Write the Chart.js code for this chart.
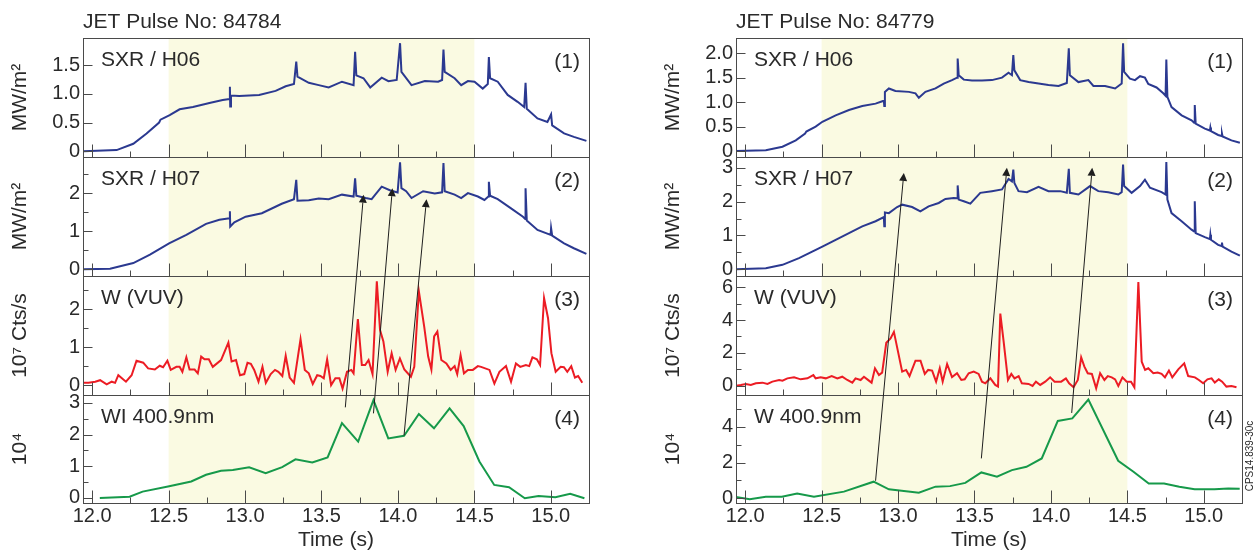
<!DOCTYPE html>
<html>
<head>
<meta charset="utf-8">
<script src="https://cdn.jsdelivr.net/npm/chart.js@4.4.1/dist/chart.umd.min.js"></script>
<style>
  body { margin: 0; background: #fff; }
  #left { position: absolute; left: 0; top: 0; width: 653px; height: 554px; }
  #right { position: absolute; left: 653px; top: 0; width: 605px; height: 554px; }
</style>
</head>
<body>
<div id="left"><canvas id="chartL"></canvas></div>
<div id="right"><canvas id="chartR"></canvas></div>
<script>
// ---- data: [time (s), value] ----
const pulses = ["84784", "84779"];
const namesA = ["SXR / H06", "SXR / H07", "W (VUV)", "WI 400.9nm"];
const namesB = ["SXR / H06", "SXR / H07", "W (VUV)", "W 400.9nm"];
const panelNums = ["(1)", "(2)", "(3)", "(4)"];
const yTitles = ["MW/m\u00B2", "MW/m\u00B2", "10\u2077 Cts/s", "10\u2074"];
const timeRange = [11.94, 15.25];
const flatTop = [12.5, 14.5];
const figNote = "CPS14.839-30c";

// pulse 84784
const h06A = [[11.943,0],[12.16,0.02],[12.269,0.13],[12.356,0.31],[12.438,0.50],[12.447,0.55],[12.507,0.63],[12.572,0.73],[12.659,0.77],[12.767,0.84],[12.854,0.89],[12.899,0.91],[12.901,1.12],[12.903,0.78],[12.908,0.97],[12.962,0.96],[13.092,0.98],[13.2,1.05],[13.266,1.13],[13.32,1.17],[13.335,1.56],[13.343,1.30],[13.417,1.19],[13.482,1.15],[13.547,1.11],[13.634,1.21],[13.71,1.15],[13.72,1.73],[13.728,1.32],[13.775,1.27],[13.819,1.11],[13.894,1.28],[13.938,1.22],[13.992,1.24],[14.014,1.88],[14.023,1.38],[14.089,1.15],[14.176,1.22],[14.263,1.21],[14.289,1.24],[14.298,1.77],[14.306,1.38],[14.371,1.27],[14.414,1.15],[14.458,1.22],[14.501,1.21],[14.555,1.09],[14.588,1.17],[14.595,1.64],[14.603,1.27],[14.653,1.21],[14.718,0.98],[14.783,0.86],[14.826,0.77],[14.835,1.19],[14.843,0.74],[14.913,0.57],[14.978,0.51],[15.002,0.64],[15.009,0.45],[15.087,0.31],[15.151,0.25],[15.233,0.18]];
const h07A = [[11.943,0],[12.117,0.01],[12.269,0.16],[12.378,0.38],[12.503,0.68],[12.616,0.90],[12.745,1.19],[12.832,1.30],[12.899,1.34],[12.901,1.52],[12.903,1.12],[12.93,1.23],[13.004,1.38],[13.11,1.47],[13.24,1.72],[13.32,1.84],[13.335,2.35],[13.343,1.80],[13.417,1.81],[13.482,1.86],[13.547,1.84],[13.634,1.96],[13.71,1.91],[13.72,2.39],[13.728,1.93],[13.789,1.87],[13.828,1.84],[13.894,2.17],[13.951,2.07],[13.998,2.02],[14.014,2.81],[14.023,2.13],[14.054,2.05],[14.089,1.87],[14.165,2.05],[14.241,1.99],[14.289,2.02],[14.298,2.79],[14.306,2.05],[14.371,1.96],[14.414,1.87],[14.458,2.0],[14.523,1.91],[14.566,1.82],[14.592,1.91],[14.595,2.30],[14.603,1.93],[14.653,1.84],[14.74,1.60],[14.818,1.38],[14.833,1.32],[14.835,2.13],[14.843,1.28],[14.913,1.03],[14.999,0.90],[15.002,1.08],[15.009,0.88],[15.087,0.68],[15.151,0.55],[15.233,0.40]];
const vuvA = [[11.944,0.06],[11.976,0.06],[12.02,0.09],[12.052,0.13],[12.095,0.02],[12.128,0.09],[12.15,0.06],[12.171,0.26],[12.221,0.09],[12.258,0.26],[12.29,0.64],[12.334,0.59],[12.366,0.44],[12.41,0.41],[12.442,0.51],[12.464,0.47],[12.492,0.64],[12.514,0.40],[12.551,0.48],[12.572,0.48],[12.59,0.35],[12.616,0.73],[12.637,0.41],[12.67,0.41],[12.691,0.31],[12.713,0.75],[12.735,0.68],[12.763,0.68],[12.789,0.48],[12.843,0.66],[12.891,1.12],[12.912,0.62],[12.941,0.66],[12.967,0.26],[12.995,0.29],[13.016,0.59],[13.038,0.56],[13.06,0.40],[13.088,0.09],[13.114,0.48],[13.136,0.06],[13.168,0.29],[13.196,0.40],[13.218,0.35],[13.244,0.24],[13.266,0.77],[13.292,0.20],[13.32,0.06],[13.363,1.21],[13.391,0.40],[13.417,0.31],[13.443,0.03],[13.472,0.26],[13.493,0.24],[13.515,0.18],[13.537,0.68],[13.563,0.0],[13.591,0.18],[13.617,0.18],[13.638,-0.09],[13.667,0.35],[13.695,0.40],[13.71,0.31],[13.738,1.74],[13.764,0.53],[13.786,0.53],[13.808,0.66],[13.834,0.29],[13.862,2.73],[13.883,1.45],[13.905,1.15],[13.933,0.35],[13.959,0.84],[13.985,0.40],[14.013,0.70],[14.042,0.41],[14.085,0.22],[14.107,0.48],[14.137,2.47],[14.172,1.54],[14.198,0.75],[14.219,0.41],[14.237,1.28],[14.258,1.41],[14.284,0.66],[14.317,0.57],[14.345,0.40],[14.371,0.50],[14.388,0.29],[14.41,0.79],[14.432,0.31],[14.458,0.40],[14.49,0.40],[14.523,0.50],[14.544,0.48],[14.599,0.40],[14.631,0.04],[14.664,0.35],[14.707,0.50],[14.74,0.09],[14.772,0.57],[14.8,0.48],[14.837,0.53],[14.859,0.50],[14.88,0.73],[14.909,0.68],[14.93,0.53],[14.956,2.29],[14.982,1.76],[15.004,0.84],[15.032,0.35],[15.065,0.48],[15.086,0.47],[15.108,0.35],[15.134,0.50],[15.158,0.20],[15.179,0.24],[15.206,0.06]];
const wiA = [[12.05,0],[12.245,0.04],[12.33,0.2],[12.496,0.36],[12.648,0.52],[12.745,0.73],[12.843,0.86],[12.92,0.88],[13.027,0.97],[13.135,0.78],[13.243,0.97],[13.33,1.22],[13.44,1.12],[13.54,1.28],[13.634,2.36],[13.74,1.78],[13.84,3.09],[13.937,1.88],[14.04,1.96],[14.137,2.65],[14.236,2.2],[14.338,2.83],[14.43,2.27],[14.533,1.15],[14.63,0.41],[14.727,0.34],[14.83,-0.01],[14.92,0.06],[15.03,0.02],[15.127,0.13],[15.22,-0.01]];
// arrows: [t start, value in panel 4, t end, value in panel 2]
const arrowsA = [[13.656,2.86,13.775,1.96],[13.84,2.67,13.964,2.13],[14.04,1.97,14.187,1.84]];

// pulse 84779
const h06B = [[11.935,0],[12.135,0.02],[12.244,0.09],[12.331,0.22],[12.392,0.36],[12.40,0.40],[12.461,0.50],[12.505,0.60],[12.592,0.73],[12.679,0.84],[12.766,0.92],[12.853,0.97],[12.907,1.03],[12.91,0.92],[12.914,1.21],[12.94,1.28],[12.983,1.23],[13.071,1.21],[13.114,1.18],[13.136,1.09],[13.179,1.21],[13.245,1.28],[13.299,1.38],[13.353,1.45],[13.386,1.50],[13.39,1.89],[13.397,1.55],[13.43,1.46],[13.484,1.44],[13.549,1.44],[13.614,1.45],[13.68,1.50],[13.723,1.60],[13.745,1.55],[13.754,1.96],[13.761,1.65],[13.799,1.45],[13.854,1.41],[13.919,1.38],[13.984,1.35],[14.05,1.33],[14.104,1.39],[14.117,2.10],[14.124,1.55],[14.18,1.41],[14.245,1.45],[14.278,1.33],[14.354,1.33],[14.42,1.28],[14.463,1.38],[14.472,2.20],[14.479,1.62],[14.517,1.48],[14.55,1.45],[14.583,1.53],[14.615,1.50],[14.637,1.37],[14.691,1.30],[14.735,1.18],[14.75,1.13],[14.755,1.87],[14.762,1.11],[14.789,0.90],[14.855,0.73],[14.92,0.63],[14.937,0.58],[14.941,0.94],[14.947,0.56],[15.007,0.46],[15.04,0.42],[15.043,0.48],[15.047,0.41],[15.094,0.33],[15.116,0.31],[15.119,0.36],[15.123,0.30],[15.181,0.22],[15.236,0.17]];
const h07B = [[11.935,0],[12.135,0.03],[12.244,0.13],[12.352,0.33],[12.505,0.67],[12.592,0.87],[12.679,1.07],[12.766,1.27],[12.853,1.42],[12.907,1.54],[12.91,1.27],[12.914,1.68],[12.94,1.66],[12.994,1.84],[13.027,1.91],[13.092,1.84],[13.146,1.71],[13.2,1.86],[13.266,1.96],[13.31,2.08],[13.364,2.11],[13.386,2.10],[13.39,2.48],[13.397,2.06],[13.43,2.01],[13.473,1.94],[13.538,2.26],[13.614,2.31],[13.68,2.36],[13.723,2.67],[13.745,2.60],[13.754,2.95],[13.761,2.55],[13.788,2.31],[13.843,2.28],[13.919,2.44],[13.984,2.31],[14.061,2.31],[14.104,2.26],[14.117,2.97],[14.124,2.26],[14.18,2.21],[14.256,2.46],[14.31,2.31],[14.375,2.28],[14.441,2.21],[14.463,2.28],[14.472,3.10],[14.479,2.46],[14.528,2.26],[14.583,2.46],[14.615,2.65],[14.648,2.41],[14.724,2.28],[14.75,2.21],[14.755,3.17],[14.762,2.06],[14.789,1.66],[14.855,1.42],[14.92,1.17],[14.937,1.12],[14.941,2.01],[14.947,1.07],[15.007,0.95],[15.04,0.89],[15.043,1.02],[15.047,0.87],[15.094,0.72],[15.116,0.69],[15.119,0.79],[15.123,0.67],[15.181,0.52],[15.236,0.40]];
const vuvB = [[11.935,0],[11.972,0.06],[12.004,0.12],[12.037,0.06],[12.07,0.16],[12.113,0.2],[12.146,0.12],[12.178,0.26],[12.222,0.36],[12.244,0.32],[12.276,0.46],[12.32,0.52],[12.363,0.40],[12.407,0.46],[12.446,0.66],[12.461,0.46],[12.494,0.52],[12.527,0.46],[12.566,0.60],[12.603,0.46],[12.635,0.56],[12.668,0.36],[12.701,0.20],[12.722,0.46],[12.755,0.36],[12.777,0.56],[12.799,0.40],[12.827,0.20],[12.849,1.07],[12.875,0.66],[12.896,0.81],[12.923,2.62],[12.951,2.88],[12.973,3.28],[13.027,0.87],[13.053,0.97],[13.075,0.60],[13.114,1.53],[13.147,1.53],[13.175,0.73],[13.197,0.97],[13.223,0.93],[13.249,0.26],[13.273,1.07],[13.292,0.26],[13.321,1.33],[13.353,0.54],[13.386,0.77],[13.414,0.36],[13.436,0.40],[13.462,0.77],[13.495,0.87],[13.527,0.73],[13.549,0.26],[13.571,0.16],[13.604,0.46],[13.636,0.06],[13.654,-0.04],[13.669,4.39],[13.691,2.68],[13.719,0.36],[13.741,0.73],[13.762,0.46],[13.789,0.60],[13.81,0.16],[13.854,0.12],[13.88,0.0],[13.902,0.26],[13.93,0.06],[13.963,0.26],[13.995,0.52],[14.024,0.26],[14.067,0.26],[14.098,0.46],[14.119,0.16],[14.148,-0.08],[14.176,0.36],[14.198,1.73],[14.219,1.17],[14.241,0.77],[14.268,0.73],[14.296,-0.14],[14.322,0.77],[14.35,0.36],[14.372,0.60],[14.398,0.52],[14.42,0.40],[14.441,0.0],[14.468,0.52],[14.496,0.26],[14.524,0.26],[14.546,-0.08],[14.572,6.30],[14.594,1.47],[14.616,0.97],[14.637,1.07],[14.67,0.77],[14.698,0.81],[14.724,0.73],[14.746,0.52],[14.772,0.93],[14.794,0.52],[14.833,1.01],[14.872,1.37],[14.898,0.60],[14.942,0.52],[14.968,0.36],[14.996,0.16],[15.024,0.40],[15.051,0.46],[15.072,0.20],[15.098,0.40],[15.12,0.26],[15.148,-0.04],[15.181,0.0],[15.214,-0.08]];
const wiB = [[11.935,0.07],[12.03,-0.07],[12.135,0.07],[12.24,0.07],[12.34,0.26],[12.45,0.07],[12.646,0.36],[12.84,0.92],[12.94,0.49],[13.136,0.30],[13.245,0.64],[13.34,0.67],[13.44,0.85],[13.545,1.44],[13.647,1.2],[13.745,1.57],[13.84,1.76],[13.94,2.23],[14.045,4.34],[14.14,4.48],[14.245,5.54],[14.44,2.10],[14.54,1.48],[14.64,0.82],[14.74,0.82],[14.84,0.64],[14.94,0.49],[15.07,0.49],[15.16,0.54],[15.235,0.52]];
const arrowsB = [[12.853,0.97,13.038,2.85],[13.545,2.23,13.712,3.0],[14.136,4.79,14.27,3.0]];

// ---- styles ----
const BLUE = "#2b3990", RED = "#ec1c24", GREEN = "#16994a";
const SHADE = "#fafae2", INK = "#2a2a2a", FRAME = "#4a4a4a";
const FONT = '"Liberation Sans", Arial, Helvetica, sans-serif';

function pts(a) { return a.map(p => ({ x: p[0], y: p[1] })); }

function oneDecimal(v) { return v === 0 ? "0" : v.toFixed(1); }
function plain(v) { return String(v); }

function yAxis(weight, min, max, step, title, fmt, minor) {
  return {
    type: "linear", position: "left", stack: "col", stackWeight: weight,
    min: min, max: max, minorTicks: minor,
    ticks: { stepSize: step, includeBounds: false, autoSkip: false, padding: 3,
             color: INK, font: { family: FONT, size: 20 }, callback: fmt },
    grid: { display: false, drawTicks: false },
    border: { display: false },
    title: { display: true, text: title, color: INK,
             font: { family: FONT, size: 21 }, padding: { top: 8, bottom: 0 } },
    afterFit: s => { s.width = 83; }
  };
}

function panelsPlugin(info) {
  return {
    id: "panels",
    beforeDatasetsDraw(chart) {
      const { ctx, chartArea: a, scales } = chart;
      const x0 = scales.x.getPixelForValue(flatTop[0]);
      const x1 = scales.x.getPixelForValue(flatTop[1]);
      ctx.save();
      ctx.fillStyle = SHADE;
      ctx.fillRect(x0, a.top, x1 - x0, a.bottom - a.top);
      ctx.restore();
    },
    afterDatasetsDraw(chart) {
      const { ctx, chartArea: a, scales } = chart;
      const X = scales.x;
      const L = Math.round(a.left) + 0.5, R = Math.round(a.right) + 0.5;
      const xMajor = X.ticks.map(t => t.value);
      const xMinor = xMajor.map(v => v + 0.25).filter(v => v < X.max - 0.02);
      ctx.save();
      ctx.strokeStyle = FRAME;
      ctx.lineWidth = 1;
      const seg = (x0, y0, x1, y1) => { ctx.beginPath(); ctx.moveTo(x0, y0); ctx.lineTo(x1, y1); ctx.stroke(); };

      ["p1", "p2", "p3", "p4"].forEach((id, i) => {
        const s = scales[id];
        const top = Math.round(s.top) + 0.5, bot = Math.round(s.bottom) + 0.5;
        ctx.strokeRect(L, top, R - L, bot - top);
        const vals = s.ticks.map(t => t.value);
        vals.forEach(v => { const py = Math.round(s.getPixelForValue(v)) + 0.5; seg(L, py, L + 9, py); });
        if (s.options.minorTicks) {
          const step = vals[1] - vals[0];
          vals.map(v => v + step / 2).filter(v => v < s.max).forEach(v => {
            const py = Math.round(s.getPixelForValue(v)) + 0.5; seg(L, py, L + 5, py);
          });
        }
        xMajor.forEach(v => { const px = Math.round(X.getPixelForValue(v)) + 0.5; seg(px, bot, px, bot - 13); });
        xMinor.forEach(v => { const px = Math.round(X.getPixelForValue(v)) + 0.5; seg(px, bot, px, bot - 6); });

        ctx.fillStyle = INK;
        ctx.font = "21px " + FONT;
        ctx.textBaseline = "middle";
        ctx.textAlign = "left";
        ctx.fillText(info.names[i], a.left + 18, s.top + 22);
        ctx.textAlign = "right";
        ctx.fillText(panelNums[i], a.right - 9, s.top + 24);
      });

      // arrows from panel (4) up to panel (2)
      ctx.strokeStyle = "#1e1e1e";
      ctx.fillStyle = "#1e1e1e";
      info.arrows.forEach(ar => {
        const x0 = X.getPixelForValue(ar[0]), y0 = scales.p4.getPixelForValue(ar[1]);
        const x1 = X.getPixelForValue(ar[2]), y1 = scales.p2.getPixelForValue(ar[3]);
        const ang = Math.atan2(y1 - y0, x1 - x0);
        const hl = 8, hw = 4;
        const bx = x1 - hl * Math.cos(ang), by = y1 - hl * Math.sin(ang);
        seg(x0, y0, bx, by);
        ctx.beginPath();
        ctx.moveTo(x1, y1);
        ctx.lineTo(bx + hw * Math.sin(ang), by - hw * Math.cos(ang));
        ctx.lineTo(bx - hw * Math.sin(ang), by + hw * Math.cos(ang));
        ctx.closePath();
        ctx.fill();
      });

      ctx.fillStyle = INK;
      ctx.font = "21px " + FONT;
      ctx.textAlign = "left";
      ctx.textBaseline = "middle";
      ctx.fillText("JET Pulse No: " + info.pulse, a.left, 22);

      if (info.note) {
        ctx.translate(a.right + 8, scales.p4.top + 61);
        ctx.rotate(-Math.PI / 2);
        ctx.font = "10px " + FONT;
        ctx.textAlign = "center";
        ctx.fillText(info.note, 0, 0);
      }
      ctx.restore();
    }
  };
}

function column(canvasId, series, y, info, padRight) {
  const line = (d, id, color) => ({
    data: pts(d), yAxisID: id, borderColor: color, borderWidth: 2,
    pointRadius: 0, tension: 0, fill: false
  });
  return new Chart(canvasId, {
    type: "line",
    data: {
      datasets: [
        line(series[0], "p1", BLUE),
        line(series[1], "p2", BLUE),
        line(series[2], "p3", RED),
        line(series[3], "p4", GREEN),
      ],
    },
    options: {
      responsive: true,
      maintainAspectRatio: false,
      animation: false,
      layout: { padding: { left: 0, top: 38, right: padRight, bottom: 0 } },
      plugins: { legend: { display: false }, tooltip: { enabled: false } },
      scales: {
        x: {
          type: "linear", min: timeRange[0], max: timeRange[1],
          ticks: { stepSize: 0.5, includeBounds: false, autoSkip: false, maxRotation: 0,
                   padding: 1, color: INK, font: { family: FONT, size: 20 },
                   callback: v => v.toFixed(1) },
          grid: { display: false, drawTicks: false },
          border: { display: false },
          title: { display: true, text: "Time (s)", color: INK,
                   font: { family: FONT, size: 21 }, padding: { top: 0, bottom: 1 } },
          afterFit: s => { s.height = 51; }
        },
        // defined bottom-up: the last stacked axis is placed on top
        p4: y[3],
        p3: y[2],
        p2: y[1],
        p1: y[0],
      },
    },
    plugins: [panelsPlugin(info)],
  });
}

column("chartL", [h06A, h07A, vuvA, wiA], [
  yAxis(119, -0.10, 1.97, 0.5, yTitles[0], oneDecimal, false),
  yAxis(119, -0.18, 2.95, 1, yTitles[1], plain, true),
  yAxis(119, -0.26, 2.87, 1, yTitles[2], plain, true),
  yAxis(108, -0.16, 3.25, 1, yTitles[3], plain, true),
], { names: namesA, arrows: arrowsA, pulse: pulses[0] }, 64);

column("chartR", [h06B, h07B, vuvB, wiB], [
  yAxis(119, -0.12, 2.31, 0.5, yTitles[0], oneDecimal, false),
  yAxis(119, -0.20, 3.32, 1, yTitles[1], plain, true),
  yAxis(119, -0.55, 6.67, 2, yTitles[2], plain, true),
  yAxis(108, -0.28, 5.80, 2, yTitles[3], plain, true),
], { names: namesB, arrows: arrowsB, pulse: pulses[1], note: figNote }, 16);
</script>
</body>
</html>
